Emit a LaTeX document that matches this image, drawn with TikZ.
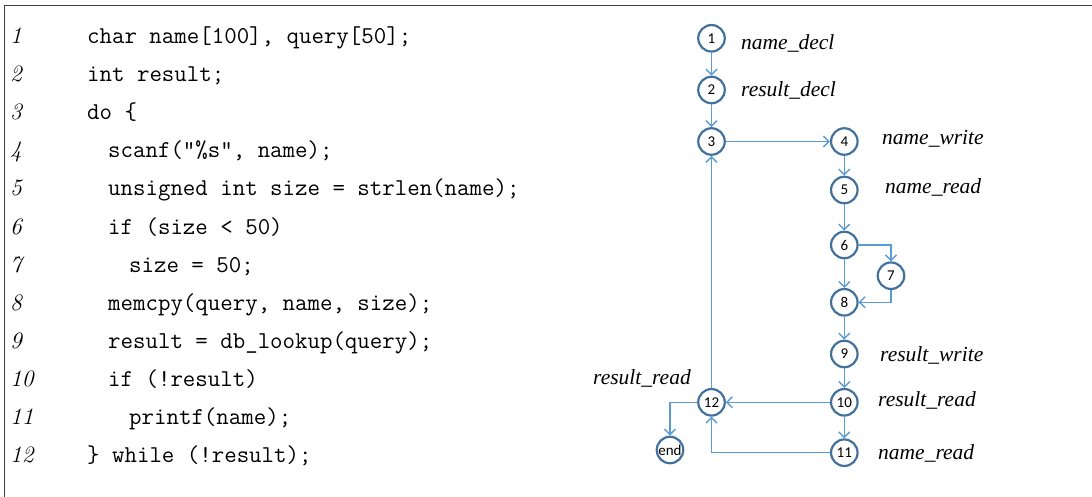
\documentclass[tikz,border=0pt]{standalone}
\usepackage{fontspec}
\newfontfamily\labfont{Liberation Serif}
\newfontfamily\cirfont{Carlito}
\usetikzlibrary{arrows.meta}
\definecolor{cblue}{HTML}{41719C}
\definecolor{lblue}{HTML}{5B9BD5}
\definecolor{frame}{HTML}{404040}
\tikzset{
  circ/.style={circle, draw=cblue, line width=2.2pt, minimum size=26.5pt, inner sep=0pt, font=\cirfont\fontsize{15}{15}\selectfont},
  conn/.style={draw=lblue, line width=1.3pt, -{Straight Barb[length=5.5pt,width=11pt,line width=1.4pt]}},
  lab/.style={anchor=west, inner sep=0pt, font=\labfont\itshape\fontsize{21.5}{22}\selectfont},
  code/.style={anchor=base west, inner sep=0pt, font=\ttfamily\fontsize{24.2}{25}\selectfont},
  lnum/.style={anchor=base west, inner sep=0pt, font=\itshape\fontsize{23.5}{24}\selectfont},
}
\begin{document}
\begin{tikzpicture}[x=1pt,y=-1pt]
\useasboundingbox (0,0) rectangle (1092,497);
\draw[frame, line width=1.4pt] (4.5,497) -- (4.5,5.5) -- (1092,5.5);
% line numbers
\foreach \i in {1,...,12} {
  \node[lnum] (ln\i) at (10, {43.3+(\i-1)*38.15}) {\i};
}
% code
\node[code] (c1) at (87, 43.3) {char name[100], query[50];};
\node[code] (c2) at (87, 81.45) {int result;};
\node[code] (c3) at (87, 119.6) {do \{};
\node[code] (c4) at (108, 157.75) {scanf("\%s", name);};
\node[code] (c5) at (108, 195.9) {unsigned int size = strlen(name);};
\node[code] (c6) at (108, 234.05) {if (size < 50)};
\node[code] (c7) at (129, 272.2) {size = 50;};
\node[code] (c8) at (108, 310.35) {memcpy(query, name, size);};
\node[code] (c9) at (108, 348.5) {result = db\_lookup(query);};
\node[code] (c10) at (108, 386.65) {if (!result)};
\node[code] (c11) at (129, 424.8) {printf(name);};
\node[code] (c12) at (87, 462.95) {\} while (!result);};
% graph nodes
\node[circ] (n1) at (711.5, 38.3) {1};
\node[circ] (n2) at (711.5, 90) {2};
\node[circ] (n3) at (711.5, 141.5) {3};
\node[circ] (n4) at (844.3, 141.5) {4};
\node[circ] (n5) at (844.3, 190) {5};
\node[circ] (n6) at (844.3, 245) {6};
\node[circ] (n7) at (891, 275.7) {7};
\node[circ] (n8) at (844.3, 302.3) {8};
\node[circ] (n9) at (844.3, 354) {9};
\node[circ] (n10) at (844.3, 402.3) {10};
\node[circ] (n11) at (844.3, 452.7) {11};
\node[circ] (n12) at (711.5, 402.3) {12};
\node[circ] (nend) at (670, 450) {end};
% labels
\node[lab] (l1) at (741, 43) {name\_decl};
\node[lab] (l2) at (741, 90.6) {result\_decl};
\node[lab] (l4) at (882, 139) {name\_write};
\node[lab] (l5) at (885, 187.5) {name\_read};
\node[lab] (l9) at (880, 355.7) {result\_write};
\node[lab] (l10) at (878, 400) {result\_read};
\node[lab] (l11) at (878, 453.5) {name\_read};
\node[lab] (l12) at (593, 378) {result\_read};
% connectors
\draw[conn] (n1) -- (n2);
\draw[conn] (n2) -- (n3);
\draw[conn] (n3) -- (n4);
\draw[conn] (n4) -- (n5);
\draw[conn] (n5) -- (n6);
\draw[conn] (n6.east) -| (n7.north);
\draw[conn] (n6) -- (n8);
\draw[conn] (n7.south) |- (n8.east);
\draw[conn] (n8) -- (n9);
\draw[conn] (n9) -- (n10);
\draw[conn] (n10) -- (n11);
\draw[conn] (n10) -- (n12);
\draw[conn] (n11.west) -| (n12.south);
\draw[conn] (n12.west) -| (nend.north);
\draw[conn] (n12) -- (n3);
\end{tikzpicture}
\end{document}
